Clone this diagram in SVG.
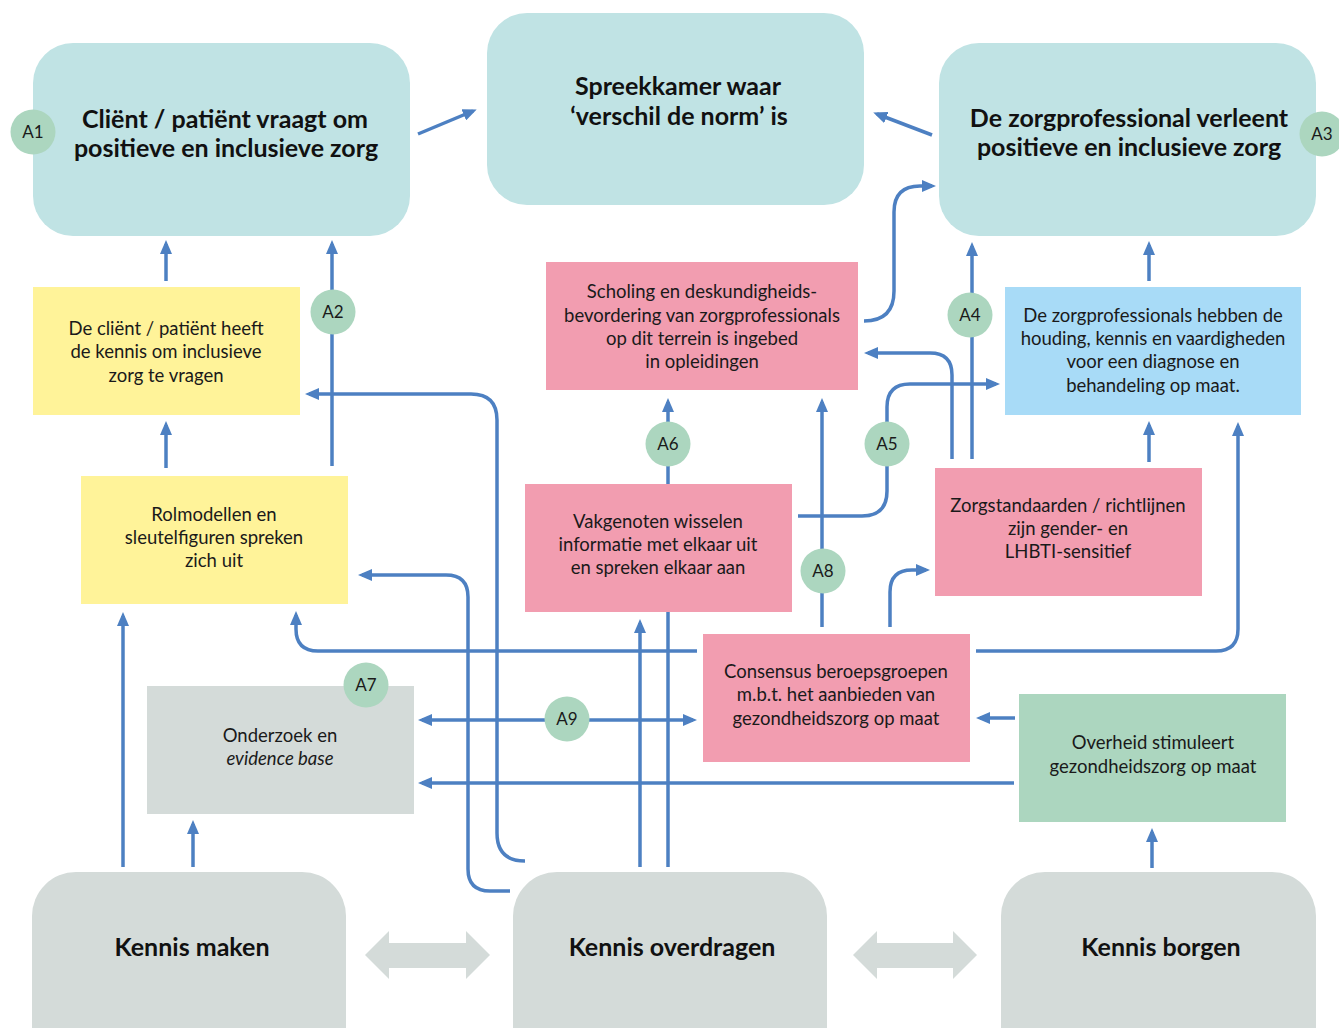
<svg xmlns="http://www.w3.org/2000/svg" width="1339" height="1028" viewBox="0 0 1339 1028">
<defs>
<marker id="ah" markerUnits="userSpaceOnUse" markerWidth="14" markerHeight="12" viewBox="0 0 14 12" refX="10" refY="6" orient="auto-start-reverse">
<path d="M0,0 L14,6 L0,12 Z" fill="#4d80c2"/>
</marker>
</defs>
<style>
.c{fill:none;stroke:#4d80c2;stroke-width:3.5;marker-end:url(#ah)}
.teal{fill:#c0e3e4}
.yel{fill:#fff399}
.pink{fill:#f29db0}
.blue{fill:#a8dbf7}
.grn{fill:#acd6bf}
.gray{fill:#d4dbd9}
.badge{fill:#acd6bf}
.bt{font-family:Lato,"Open Sans",sans-serif;font-weight:700;font-size:25px;fill:#111;text-anchor:middle}
.t{font-family:Lato,"Open Sans",sans-serif;font-size:18.5px;fill:#1a1a1a;text-anchor:middle}
.bl{font-family:Lato,"Open Sans",sans-serif;font-size:17px;fill:#1a1a1a;text-anchor:middle}
.kb{font-family:Lato,"Open Sans",sans-serif;font-weight:700;font-size:25px;fill:#111;text-anchor:middle}
</style>
<rect width="1339" height="1028" fill="#fff"/>

<g id="connectors">
<path class="c" d="M418,134 L473,111"/>
<path class="c" d="M932,135 L877,114"/>
<path class="c" d="M166,281 V244"/>
<path class="c" d="M166,468 V425"/>
<path class="c" d="M332,466 V244"/>
<path class="c" d="M525,861 Q497,861 497,833 V420 Q497,394 471,394 H309"/>
<path class="c" d="M510,891 H490 Q468,891 468,869 V597 Q468,575 446,575 H362"/>
<path class="c" d="M697,651 H318 Q296,651 296,629 V615"/>
<path class="c" d="M976,651 H1216 Q1238,651 1238,629 V426"/>
<path class="c" d="M422,720 H693" marker-start="url(#ah)"/>
<path class="c" d="M1014,783 H422"/>
<path class="c" d="M1015,718 H980"/>
<path class="c" d="M123,867 V616"/>
<path class="c" d="M193,867 V824"/>
<path class="c" d="M640,867 V623"/>
<path class="c" d="M668,867 V402"/>
<path class="c" d="M822,627 V402"/>
<path class="c" d="M798,516 H862 Q887,516 887,491 V407 Q887,384 910,384 H996"/>
<path class="c" d="M952,459 V375 Q952,353 930,353 H868"/>
<path class="c" d="M972,459 V246"/>
<path class="c" d="M890,627 V592 Q890,570 912,570 H926"/>
<path class="c" d="M864,321 Q894,321 894,291 V212 Q894,186 920,186 H932"/>
<path class="c" d="M1149,281 V245"/>
<path class="c" d="M1149,462 V425"/>
<path class="c" d="M1152,868 V832"/>
<path d="M365,955 L389,931 V943 H466 V931 L490,955 L466,979 V968 H389 V979 Z" class="gray"/>
<path d="M853,955 L877,931 V943 H953 V931 L977,955 L953,979 V968 H877 V979 Z" class="gray"/>
</g>

<g id="client">
<rect class="teal" x="33" y="43" width="377" height="193" rx="40"/>
<text class="bt" x="225" y="128">Cliënt / patiënt vraagt om</text>
<text class="bt" x="226" y="157">positieve en inclusieve zorg</text>
</g>
<g id="spreekkamer">
<rect class="teal" x="487" y="13" width="377" height="192" rx="40"/>
<text class="bt" x="678" y="95">Spreekkamer waar</text>
<text class="bt" x="679" y="125">‘verschil de norm’ is</text>
</g>
<g id="zorgprofessional">
<rect class="teal" x="939" y="43" width="377" height="193" rx="40"/>
<text class="bt" x="1129" y="127">De zorgprofessional verleent</text>
<text class="bt" x="1129" y="156">positieve en inclusieve zorg</text>
</g>
<g id="kennis-client">
<rect class="yel" x="33" y="287" width="267" height="128"/>
<text class="t" x="166" y="335">De cliënt / patiënt heeft</text>
<text class="t" x="166" y="358">de kennis om inclusieve</text>
<text class="t" x="166" y="382">zorg te vragen</text>
</g>
<g id="rolmodellen">
<rect class="yel" x="81" y="476" width="267" height="128"/>
<text class="t" x="214" y="521">Rolmodellen en</text>
<text class="t" x="214" y="544">sleutelfiguren spreken</text>
<text class="t" x="214" y="567">zich uit</text>
</g>
<g id="scholing">
<rect class="pink" x="546" y="262" width="312" height="128"/>
<text class="t" x="702" y="298">Scholing en deskundigheids-</text>
<text class="t" x="702" y="322">bevordering van zorgprofessionals</text>
<text class="t" x="702" y="345">op dit terrein is ingebed</text>
<text class="t" x="702" y="368">in opleidingen</text>
</g>
<g id="vakgenoten">
<rect class="pink" x="525" y="484" width="267" height="128"/>
<text class="t" x="658" y="528">Vakgenoten wisselen</text>
<text class="t" x="658" y="551">informatie met elkaar uit</text>
<text class="t" x="658" y="574">en spreken elkaar aan</text>
</g>
<g id="houding">
<rect class="blue" x="1005" y="287" width="296" height="128"/>
<text class="t" x="1153" y="322">De zorgprofessionals hebben de</text>
<text class="t" x="1153" y="345">houding, kennis en vaardigheden</text>
<text class="t" x="1153" y="368">voor een diagnose en</text>
<text class="t" x="1153" y="392">behandeling op maat.</text>
</g>
<g id="zorgstandaarden">
<rect class="pink" x="935" y="468" width="267" height="128"/>
<text class="t" x="1068" y="512">Zorgstandaarden / richtlijnen</text>
<text class="t" x="1068" y="535">zijn gender- en</text>
<text class="t" x="1068" y="558">LHBTI-sensitief</text>
</g>
<g id="consensus">
<rect class="pink" x="703" y="634" width="267" height="128"/>
<text class="t" x="836" y="678">Consensus beroepsgroepen</text>
<text class="t" x="836" y="701">m.b.t. het aanbieden van</text>
<text class="t" x="836" y="725">gezondheidszorg op maat</text>
</g>
<g id="overheid">
<rect class="grn" x="1019" y="694" width="267" height="128"/>
<text class="t" x="1153" y="749">Overheid stimuleert</text>
<text class="t" x="1153" y="773">gezondheidszorg op maat</text>
</g>
<g id="onderzoek">
<rect class="gray" x="147" y="686" width="267" height="128"/>
<text class="t" x="280" y="742">Onderzoek en</text>
<text class="t" x="280" y="765" font-style="italic">evidence base</text>
</g>
<g id="kennis-maken">
<rect class="gray" x="32" y="872" width="314" height="200" rx="44"/>
<text class="kb" x="192" y="956">Kennis maken</text>
</g>
<g id="kennis-overdragen">
<rect class="gray" x="513" y="872" width="314" height="200" rx="44"/>
<text class="kb" x="672" y="956">Kennis overdragen</text>
</g>
<g id="kennis-borgen">
<rect class="gray" x="1001" y="872" width="315" height="200" rx="44"/>
<text class="kb" x="1161" y="956">Kennis borgen</text>
</g>

<g id="badge-A1"><circle class="badge" cx="33" cy="132" r="22.5"/><text class="bl" x="33" y="138">A1</text></g>
<g id="badge-A2"><circle class="badge" cx="333" cy="312" r="22.5"/><text class="bl" x="333" y="318">A2</text></g>
<g id="badge-A3"><circle class="badge" cx="1322" cy="134" r="22.5"/><text class="bl" x="1322" y="140">A3</text></g>
<g id="badge-A4"><circle class="badge" cx="970" cy="315" r="22.5"/><text class="bl" x="970" y="321">A4</text></g>
<g id="badge-A5"><circle class="badge" cx="887" cy="444" r="22.5"/><text class="bl" x="887" y="450">A5</text></g>
<g id="badge-A6"><circle class="badge" cx="668" cy="444" r="22.5"/><text class="bl" x="668" y="450">A6</text></g>
<g id="badge-A7"><circle class="badge" cx="366" cy="685" r="22.5"/><text class="bl" x="366" y="691">A7</text></g>
<g id="badge-A8"><circle class="badge" cx="823" cy="571" r="22.5"/><text class="bl" x="823" y="577">A8</text></g>
<g id="badge-A9"><circle class="badge" cx="567" cy="719" r="22.5"/><text class="bl" x="567" y="725">A9</text></g>
</svg>
